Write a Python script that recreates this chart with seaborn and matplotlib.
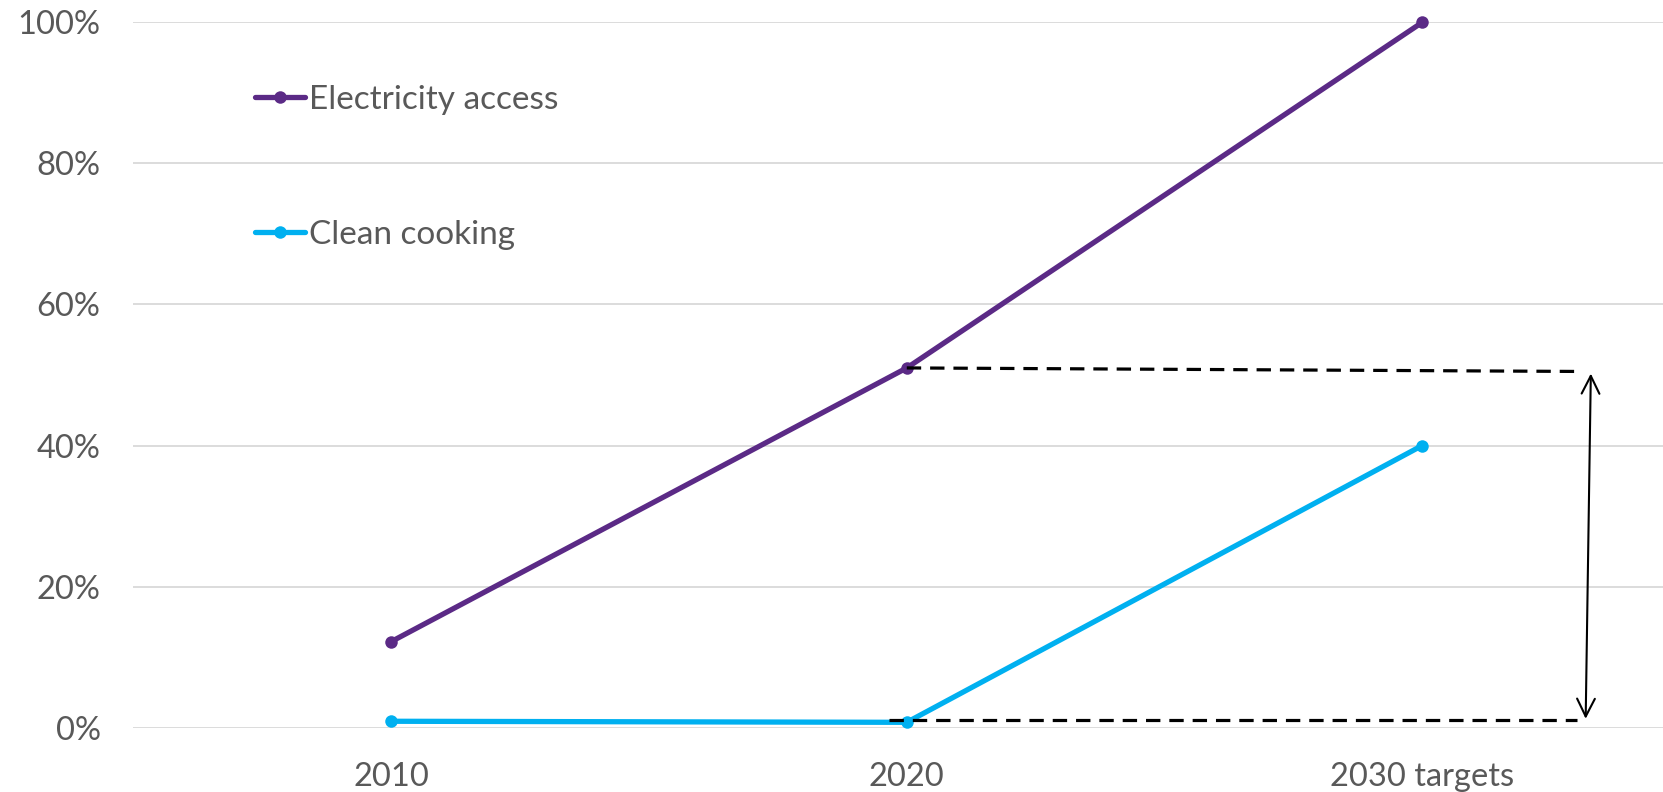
import matplotlib
matplotlib.use("Agg")
import matplotlib.pyplot as plt
import seaborn as sns
import pandas as pd
from matplotlib.lines import Line2D

categories = ["2010", "2020", "2030 targets"]
electricity = [12.2, 51.0, 100.0]
cooking = [0.9, 0.75, 40.0]
series_names = ["Electricity access", "Clean cooking"]
colors = ["#5B2A86", "#00B0F0"]
yticks = [0, 20, 40, 60, 80, 100]
ytick_labels = ["0%", "20%", "40%", "60%", "80%", "100%"]

# gap annotation (2020 electricity vs 2020 clean cooking)
gap_top = 50.5
gap_bottom = 1.05

sns.set_theme(style="white")
plt.rcParams["font.family"] = ["Lato", "DejaVu Sans"]

df = pd.DataFrame({
    "year": categories * 2,
    "value": electricity + cooking,
    "series": [series_names[0]] * 3 + [series_names[1]] * 3,
})

fig = plt.figure(figsize=(16.63, 7.92), dpi=100)
ax = fig.add_axes([0.0797, 0.0813, 0.9203, 0.8905])

sns.lineplot(data=df, x="year", y="value", hue="series", palette=colors,
             marker="o", markersize=9, markeredgewidth=0, linewidth=3.8,
             ax=ax, legend=False, sort=False)
for ln in ax.lines:
    ln.set_clip_on(False)

ax.set_ylim(0, 100)
ax.set_xlim(-0.502, 2.467)
ax.set_yticks(yticks)
ax.set_yticklabels(ytick_labels)
ax.set_xlabel("")
ax.set_ylabel("")
ax.grid(axis="y", color="#D9D9D9", linewidth=1.3)
ax.grid(axis="x", visible=False)
ax.set_axisbelow(True)
for s in ax.spines.values():
    s.set_visible(False)
ax.tick_params(axis="y", length=0, pad=23, labelsize=23.5, labelcolor="#595959")
ax.tick_params(axis="x", length=0, pad=25, labelsize=23.5, labelcolor="#595959")

# dashed reference lines
ax.plot([1.0, 2.30], [electricity[1], gap_top], color="black", lw=2.3,
        ls=(0, (4.5, 2.8)), zorder=4)
ax.plot([0.965, 2.30], [gap_bottom, gap_bottom], color="black", lw=2.3,
        ls=(0, (4.5, 2.8)), zorder=4)
ax.annotate("", xy=(2.327, gap_top - 0.3), xytext=(2.317, gap_bottom + 0.2),
            arrowprops=dict(arrowstyle="<->", color="black", lw=1.5,
                            mutation_scale=32, shrinkA=0, shrinkB=0))

handles = [Line2D([0], [0], color=c, lw=3.8, marker="o", markersize=9,
                  markeredgewidth=0) for c in colors]
leg = ax.legend(handles, series_names, loc="upper left",
                bbox_to_anchor=(0.0715, 0.93), frameon=False, fontsize=24,
                handlelength=1.5, handletextpad=0.12, labelspacing=3.15,
                borderaxespad=0)
for t in leg.get_texts():
    t.set_color("#595959")

fig.savefig("out.png", dpi=100)
